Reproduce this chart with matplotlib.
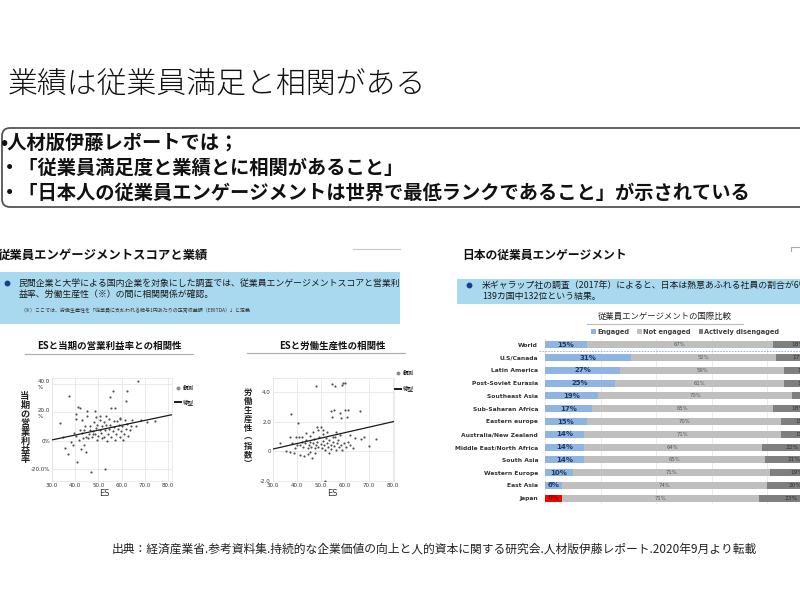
import matplotlib
matplotlib.use('Agg')
import matplotlib.pyplot as plt
from matplotlib.patches import FancyBboxPatch, Rectangle
from matplotlib.lines import Line2D

plt.rcParams['font.family'] = ['Noto Sans CJK JP', 'DejaVu Sans']

# ---- data: engagement by region (Gallup 2017) ----
regions = ['World', 'U.S/Canada', 'Latin America', 'Post-Soviet Eurasia', 'Southeast Asia',
           'Sub-Saharan Africa', 'Eastern europe', 'Australia/New Zealand',
           'Middle East/North Africa', 'South Asia', 'Western Europe', 'East Asia', 'Japan']
engaged = [15, 31, 27, 25, 19, 17, 15, 14, 14, 14, 10, 6, 6]
not_engaged = [67, 52, 59, 61, 70, 65, 70, 71, 64, 65, 71, 74, 71]
disengaged = [18, 17, 14, 14, 11, 18, 15, 15, 22, 21, 19, 20, 23]
series_names = ['Engaged', 'Not engaged', 'Actively disengaged']

# ---- data: ES vs operating profit ratio (%) ----
es_profit = [67.1, 37.5, 56.1, 55.0, 62.2, 62.0, 41.1, 41.9, 45.1, 48.5, 55.4, 57.3, 33.3, 40.5,
             40.3, 45.1, 42.9, 49.1, 50.8, 53.4, 54.4, 56.6, 59.5, 61.6, 64.5, 68.4, 71.0, 74.5,
             34.7, 35.5, 37.0, 39.1, 38.2, 42.5, 43.6, 44.8, 40.8, 46.8, 52.7, 39.6, 40.5, 41.9,
             42.9, 43.9, 44.8, 45.8, 46.5, 47.2, 47.7, 48.4, 48.8, 49.4, 49.7, 50.5, 51.1, 51.6,
             52.3, 52.8, 53.4, 54.0, 54.6, 55.1, 55.6, 56.1, 56.6, 57.2, 57.7, 58.3, 58.7, 59.2,
             59.7, 60.2, 60.6, 61.2, 61.8, 62.3, 62.9, 63.5, 64.1, 45.4, 44.4, 46.2, 48.0, 50.8,
             52.6, 58.0, 59.2, 66.4, 43.4, 41.5, 49.4, 53.7, 47.7, 51.6]
profit = [42.4, 31.7, 35.3, 30.8, 34.8, 28.2, 23.5, 22.8, 21.1, 21.1, 23.2, 23.2, 12.6, 18.7,
          15.2, 17.6, 14.7, 16.6, 17.6, 17.6, 15.2, 13.5, 15.2, 14.7, 14.7, 14.7, 12.8, 13.5,
          2.9, -5.4, -9.4, -3.0, -1.1, -5.8, -3.0, -8.2, -14.8, -22.4, -20.2, 5.3, 3.4, 7.6,
          5.3, 7.2, 2.9, 4.8, 7.6, 2.9, 6.5, 4.8, 8.8, 11.2, 3.4, 7.6, 5.3, 10.0,
          2.9, 7.2, 11.2, 4.8, 8.3, 11.2, 2.9, 6.5, 9.5, 0.5, 4.8, 8.1, 11.2, 2.9,
          6.5, 10.0, 0.5, 4.8, 8.1, 11.7, 3.4, 7.6, 10.0, 1.7, 10.0, 10.5, 12.8, 14.7,
          12.8, 13.5, 15.9, 10.0, 1.7, 0.5, 0.5, -0.6, 4.8, 1.7]
profit_fit_x = [30, 81.7]
profit_fit_y = [0.5, 18.3]

# ---- data: ES vs labour productivity (index) ----
es_prod = [47.8, 54.6, 55.7, 58.6, 59.3, 60.0, 37.5, 40.4, 54.4, 55.5, 54.7, 57.9, 60.2, 61.2,
           66.2, 58.2, 60.8, 48.5, 50.7, 33.0, 36.9, 39.7, 40.9, 45.5, 51.0, 55.1, 57.9, 62.0,
           64.1, 66.9, 73.1, 69.9, 68.0, 35.5, 36.9, 38.8, 43.1, 46.2, 44.6, 51.8, 41.3, 42.0,
           42.7, 43.4, 43.8, 44.4, 44.9, 45.5, 46.0, 46.6, 47.1, 47.5, 48.0, 48.5, 48.9, 49.3,
           49.9, 50.3, 50.7, 51.3, 51.7, 52.1, 52.7, 53.1, 53.5, 54.0, 54.4, 54.9, 55.4, 55.8,
           56.2, 56.8, 57.2, 57.6, 58.2, 59.0, 59.6, 60.4, 61.4, 62.3, 63.4, 39.3, 40.2, 37.9,
           48.9, 52.4, 56.5, 49.9, 46.9, 43.8, 42.0, 45.5, 41.3, 47.5, 53.5]
productivity = [4.45, 4.54, 4.45, 4.48, 4.61, 4.61, 2.53, 1.90, 2.73, 2.80, 2.35, 2.57, 2.80, 2.80,
                2.76, 2.24, 2.30, 1.62, 1.44, 0.54, 0.95, 0.99, 0.95, 1.04, 1.15, 0.99, 1.10, 1.10,
                0.88, 0.83, 0.83, 0.36, 0.99, 0.04, -0.05, -0.14, -0.32, -0.48, -0.19, -2.0, 0.43, 0.65,
                0.31, 0.54, 0.76, 0.20, 0.43, 0.65, 0.31, 0.54, 0.81, 0.20, 0.43, 0.65, 0.31, 0.95,
                0.49, 0.20, 0.72, 0.43, 0.09, 0.88, 0.54, 0.27, 0.76, 0.43, 0.13, 0.65, 0.36, 0.99,
                0.09, 0.54, 0.76, 0.27, 0.43, 0.09, 0.58, 0.31, 0.65, 0.43, 0.20, 0.20, 0.43, 0.54,
                1.44, 1.33, 1.33, 1.62, 1.33, 1.22, 0.99, -0.03, -0.25, -0.10, -0.10]
prod_fit_x = [30, 80.5]
prod_fit_y = [0.15, 2.02]

W, H = 800, 600


def px_axes(fig, left, top, right, bottom):
    # axes placed by pixel box (origin top-left)
    return fig.add_axes([left / W, 1 - bottom / H, (right - left) / W, (bottom - top) / H])


def fig_xy(x, y):
    return (x / W, 1 - y / H)


def scatter_panel(fig, ax, xs, ys, fit_x, fit_y, xlim, ylim, yticks, ylabels, legend_xy, legend_gap):
    ax.scatter(xs, ys, s=2.4, color='#505050', linewidths=0, zorder=3)
    ax.plot(fit_x, fit_y, color='#1a1a1a', lw=0.9, zorder=4)
    ax.set_xlim(*xlim)
    ax.set_ylim(*ylim)
    ax.set_xticks([30, 40, 50, 60, 70, 80])
    ax.set_xticklabels(['30.0', '40.0', '50.0', '60.0', '70.0', '80.0'])
    ax.set_yticks(yticks)
    ax.set_yticklabels(ylabels)
    ax.tick_params(length=0, pad=1.5, labelsize=4, labelcolor='#333333')
    for lbl in ax.get_xticklabels() + ax.get_yticklabels():
        lbl.set_family('DejaVu Sans')
    for lbl in ax.get_yticklabels():
        lbl.set_multialignment('left')
    ax.grid(color='#e2e2e2', lw=0.5)
    ax.set_axisbelow(True)
    for sp in ax.spines.values():
        sp.set_color('#e2e2e2')
        sp.set_linewidth(0.5)
    handles = [Line2D([], [], marker='o', ls='', color='#8a8a8a', ms=1.8),
               Line2D([], [], color='#1a1a1a', lw=1.4)]
    ax.legend(handles, ['観測', '線型'], loc='upper left', bbox_to_anchor=fig_xy(*legend_xy),
              bbox_transform=fig.transFigure, frameon=False, prop={'size': 4},
              handlelength=1.0, handletextpad=0.4, labelspacing=legend_gap,
              borderpad=0, borderaxespad=0)


def main():
    fig = plt.figure(figsize=(8, 6), dpi=100)
    bg = fig.add_axes([0, 0, 1, 1])
    bg.set_xlim(0, W)
    bg.set_ylim(H, 0)
    bg.axis('off')

    # slide title
    bg.text(8, 85, '業績は従業員満足と相関がある', fontsize=21.5, weight='light',
            va='center', color='#111111')

    # summary box
    bg.add_patch(FancyBboxPatch((2, 128), 830, 79, boxstyle='round,pad=0,rounding_size=8',
                                fc='white', ec='#555555', lw=1.3))
    lines = ['•人材版伊藤レポートでは；',
             '・「従業員満足度と業績とに相関があること」',
             '・「日本人の従業員エンゲージメントは世界で最低ランクであること」が示されている']
    for i, t in enumerate(lines):
        bg.text(0, 143 + 25 * i, t, fontsize=13.9, weight='bold', va='center', color='#111111')

    # left panel header
    bg.text(-2, 255, '従業員エンゲージメントスコアと業績', fontsize=8.9, weight='bold',
            va='center', color='#111111')
    bg.plot([353, 400], [249, 249], color='#c8c8c8', lw=0.8)
    bg.add_patch(Rectangle((0, 272), 400, 52, fc='#a8d9ef', ec='none'))
    bg.plot(7, 283, 'o', ms=3.2, color='#1f3c88')
    bg.text(19, 283, '民間企業と大学による国内企業を対象にした調査では、従業員エンゲージメントスコアと営業利',
            fontsize=6.4, va='center', color='#1a1a1a')
    bg.text(19, 294, '益率、労働生産性（※）の間に相関関係が確認。', fontsize=6.4, va='center',
            color='#1a1a1a')
    bg.text(20, 311, '（※）ここでは、労働生産性を「従業員に支払われる給与1円あたりの正常収益額（EBITDA）」と定義',
            fontsize=3.6, va='center', color='#333333')

    # scatter 1: operating profit
    bg.text(109, 346, 'ESと当期の営業利益率との相関性', fontsize=6.8, weight='bold',
            ha='center', va='center', color='#111111')
    bg.plot([25, 193], [354, 354], color='#b0b0b0', lw=0.9)
    ax1 = px_axes(fig, 52, 378, 172, 481)
    scatter_panel(fig, ax1, es_profit, profit, profit_fit_x, profit_fit_y,
                  (30, 81.7), (-28.5, 44.2), [40, 20, 0, -20],
                  ['40.0\n%', '20.0\n%', '0%', '-20.0%'], (175, 386), 1.5)
    bg.text(25, 428, '\n'.join('当期の営業利益率'), fontsize=6.6, weight='bold',
            ha='center', va='center', linespacing=1.0, color='#222222')
    bg.text(104, 494, 'ES', fontsize=6, ha='center', va='center', family='DejaVu Sans',
            color='#333333')

    # scatter 2: labour productivity
    bg.text(332, 346, 'ESと労働生産性の相関性', fontsize=6.8, weight='bold',
            ha='center', va='center', color='#111111')
    bg.plot([247, 405], [353, 353], color='#b0b0b0', lw=0.9)
    ax2 = px_axes(fig, 273, 378, 394, 481)
    scatter_panel(fig, ax2, es_prod, productivity, prod_fit_x, prod_fit_y,
                  (30, 80.5), (-2.02, 4.97), [4, 2, 0, -2],
                  ['4.0', '2.0', '0', '-2.0'], (395, 371), 1.7)
    bg.text(248, 428, '\n'.join('労働生産性︵指数︶'), fontsize=6.0, weight='bold',
            ha='center', va='center', linespacing=1.0, color='#222222')
    bg.text(332, 494, 'ES', fontsize=6, ha='center', va='center', family='DejaVu Sans',
            color='#333333')

    # right panel header
    bg.text(462, 255, '日本の従業員エンゲージメント', fontsize=8.5, weight='bold',
            va='center', color='#111111')
    bg.plot([791, 791, 800], [251, 247, 247], color='#aaaaaa', lw=0.8)
    bg.add_patch(Rectangle((457, 279), 343, 25, fc='#a8d9ef', ec='none'))
    bg.plot(469, 285, 'o', ms=3.2, color='#1f3c88')
    bg.text(482, 285, '米ギャラップ社の調査（2017年）によると、日本は熱意あふれる社員の割合が6%',
            fontsize=6.4, va='center', color='#1a1a1a')
    bg.text(482, 296, '139カ国中132位という結果。', fontsize=6.4, va='center', color='#1a1a1a')

    # bar chart
    bg.text(665, 316, '従業員エンゲージメントの国際比較', fontsize=6, ha='center',
            va='center', color='#222222')
    bg.plot([587, 743], [324, 324], color='#bbbbbb', lw=0.8)

    ax3 = px_axes(fig, 545, 338.6, 823, 504.4)
    ypos = list(range(len(regions)))
    eng_colors = ['#8db4e2'] * len(regions)
    eng_colors[-1] = '#ff0000'
    left2 = engaged
    left3 = [a + b for a, b in zip(engaged, not_engaged)]
    b1 = ax3.barh(ypos, engaged, height=0.55, color=eng_colors, zorder=3)
    b2 = ax3.barh(ypos, not_engaged, left=left2, height=0.55, color='#bfbfbf', zorder=3)
    b3 = ax3.barh(ypos, disengaged, left=left3, height=0.55, color='#7f7f7f', zorder=3)

    t1 = ax3.bar_label(b1, labels=[f'{v}%' for v in engaged], label_type='center',
                       fontsize=5, weight='bold', color='#1f3864', family='DejaVu Sans')
    t1[-1].set_color('#8b0000')
    ax3.bar_label(b2, labels=[f'{v}%' for v in not_engaged], label_type='center',
                  fontsize=3.8, color='#5a5a5a', family='DejaVu Sans')
    ax3.bar_label(b3, labels=[f'{v}%' for v in disengaged], label_type='center',
                  fontsize=4.2, color='#333333', family='DejaVu Sans')

    ax3.set_xlim(0, 100)
    ax3.set_ylim(len(regions) - 0.5, -0.5)
    ax3.set_xticks([0, 20, 40, 60, 80, 100])
    ax3.set_xticklabels([])
    ax3.set_yticks(ypos)
    ax3.set_yticklabels(regions)
    ax3.tick_params(length=0, pad=5)
    for lbl in ax3.get_yticklabels():
        lbl.set_family('DejaVu Sans')
        lbl.set_weight('bold')
        lbl.set_fontsize(4.3)
        lbl.set_color('#333333')
    ax3.grid(axis='x', color='#e8e8e8', lw=0.6, zorder=0)
    for sp in ax3.spines.values():
        sp.set_visible(False)
    ax3.plot([-2, 100], [0.5, 0.5], color='#8eaadb', lw=0.6, ls=(0, (2, 1.5)),
             clip_on=False, zorder=2)

    ax3.legend([b1, b2, b3], series_names, ncol=3, loc='center left',
               bbox_to_anchor=fig_xy(591, 332), bbox_transform=fig.transFigure,
               frameon=False, prop={'family': 'DejaVu Sans', 'weight': 'bold', 'size': 4.8},
               labelcolor='#404040', handlelength=0.7, handleheight=0.7,
               handletextpad=0.2, columnspacing=1.2, borderpad=0, borderaxespad=0)

    # source
    bg.text(112, 549, '出典：経済産業省.参考資料集.持続的な企業価値の向上と人的資本に関する研究会.人材版伊藤レポート.2020年9月より転載',
            fontsize=8.5, va='center', color='#222222')

    fig.savefig('out.png', dpi=100)
    plt.close(fig)


if __name__ == '__main__':
    main()
